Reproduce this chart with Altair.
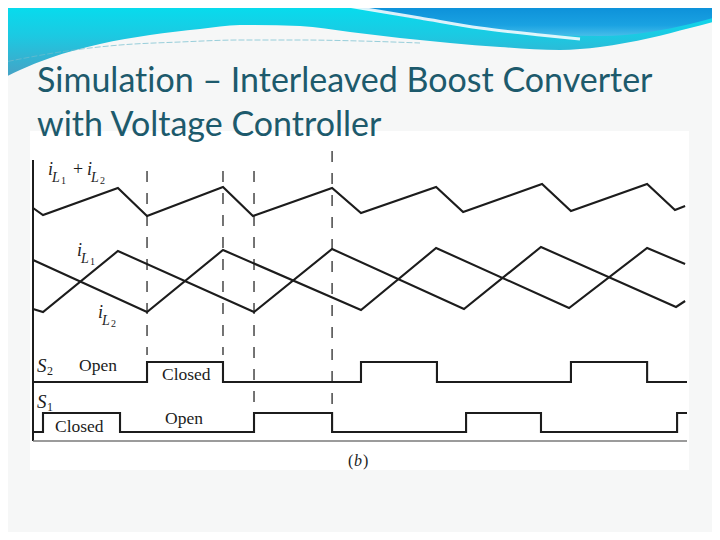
import altair as alt
import pandas as pd

# ---------------- data (time in µs, switching period T = 10 µs; currents in A) ----------------
t_sum = [-0.47, 0.0, 3.55, 4.93, 8.53, 9.95, 13.7, 15.07, 18.63, 19.91, 23.65, 25.02, 28.63, 29.95, 30.43]
i_sum = [12.2, 11.5, 14.2, 11.4, 14.3, 11.4, 14.2, 11.7, 14.3, 11.8, 14.6, 11.9, 14.6, 12.0, 12.4]

t_il1 = [-0.47, 0.0, 3.55, 10.0, 13.7, 19.95, 23.6, 30.0, 30.43]
i_l1 = [2.1, 1.8, 7.9, 1.8, 8.1, 2.1, 8.3, 2.3, 2.9]

t_il2 = [-0.47, 4.93, 8.53, 15.07, 18.63, 24.93, 28.63, 30.43]
i_l2 = [7.0, 1.8, 8.0, 2.0, 8.2, 2.2, 8.2, 6.6]

t_s1 = [-0.47, 0.0, 3.65, 10.0, 13.7, 20.05, 23.6, 30.05, 30.52]
s1_state = [0, 1, 0, 1, 0, 1, 0, 1, 1]
t_s2 = [-0.47, 4.93, 8.53, 15.07, 18.67, 25.02, 28.63, 30.52]
s2_state = [0, 1, 0, 1, 0, 1, 0, 0]

guides_short = [4.93, 8.53]
guides_mid = [10.0]
guides_tall = [13.7]
t_axis = [-0.474, 30.52]

# zero-width non-joiner keeps "ti" from being drawn as a ligature
title_lines = ["Simulat\u200cion \u2013 Interleaved Boost Converter", "with Voltage Controller"]

# slide decoration outlines (slide pixel units)
deco_x = [0, 20, 50, 100, 150, 200, 240, 300, 350, 400, 450, 500, 560, 600, 650, 690, 720]
deco_y = [80, 70, 58, 44, 35, 29, 25, 26, 32, 38, 43, 47, 50, 47, 38, 28, 20]
blue_x = [320, 360, 400, 450, 500, 550, 600, 650, 690, 720]
blue_y = [0, 8, 16, 24, 31, 35, 36, 32, 24, 16]
streak_x = [300, 360, 420, 480, 540, 580]
streak_y = [-2, 8, 18, 28, 35, 39]
swoosh_x = [0, 60, 120, 180, 240, 300, 360, 420]
swoosh_y = [63, 52, 45, 42, 40, 40, 41, 43]

# ---------------- scales ----------------
TX = alt.Scale(domain=[-0.474, 30.52], range=[25, 679], nice=False)
IY = alt.Scale(domain=[0, 20], range=[322, 122], nice=False)
S2Y = alt.Scale(domain=[0, 1], range=[374, 354], nice=False)
S1Y = alt.Scale(domain=[0, 1], range=[424, 405], nice=False)
PX = alt.Scale(domain=[0, 720], range=[-8, 712], nice=False)
PY = alt.Scale(domain=[0, 540], range=[-8, 532], nice=False)

INK = "#1c1c1c"
SERIF = "Liberation Serif"
ONE = pd.DataFrame({"k": [0]})

layers = []

# background figure panel
layers.append(
    alt.Chart(pd.DataFrame({"x": [30], "x2": [689], "y": [131], "y2": [470]}))
    .mark_rect(color="white")
    .encode(x=alt.X("x:Q", scale=PX, axis=None), x2="x2:Q",
            y=alt.Y("y:Q", scale=PY, axis=None), y2="y2:Q")
)

# header decoration
cyan = alt.Gradient(gradient="linear", x1=0, x2=0, y1=0, y2=1,
                    stops=[alt.GradientStop(color="#02e0f0", offset=0),
                           alt.GradientStop(color="#1cc9e2", offset=0.45),
                           alt.GradientStop(color="#4a9ec2", offset=1)])
layers.append(
    alt.Chart(pd.DataFrame({"x": deco_x, "y": deco_y}))
    .mark_area(color=cyan, interpolate="monotone")
    .encode(x=alt.X("x:Q", scale=PX, axis=None), y=alt.Y("y:Q", scale=PY, axis=None), y2=alt.value(-10))
)
blue = alt.Gradient(gradient="linear", x1=0, x2=0, y1=0, y2=1,
                    stops=[alt.GradientStop(color="#078ad6", offset=0),
                           alt.GradientStop(color="#1aa2e2", offset=0.7),
                           alt.GradientStop(color="#47bde9", offset=1)])
layers.append(
    alt.Chart(pd.DataFrame({"x": blue_x, "y": blue_y}))
    .mark_area(color=blue, interpolate="monotone")
    .encode(x=alt.X("x:Q", scale=PX, axis=None), y=alt.Y("y:Q", scale=PY, axis=None), y2=alt.value(-10))
)
layers.append(
    alt.Chart(pd.DataFrame({"x": streak_x, "y": streak_y}))
    .mark_line(color="white", strokeWidth=3, opacity=0.85, interpolate="monotone")
    .encode(x=alt.X("x:Q", scale=PX, axis=None), y=alt.Y("y:Q", scale=PY, axis=None))
)
layers.append(
    alt.Chart(pd.DataFrame({"x": swoosh_x, "y": swoosh_y}))
    .mark_line(color="#6fbccd", strokeWidth=1, opacity=0.7, interpolate="monotone", strokeDash=[6, 2])
    .encode(x=alt.X("x:Q", scale=PX, axis=None), y=alt.Y("y:Q", scale=PY, axis=None))
)


def txt(s, x, y, size, font=SERIF, style="normal", color=INK, align="left", weight="normal"):
    return alt.Chart(ONE).mark_text(
        text=s, font=font, fontSize=size, fontStyle=style, fontWeight=weight,
        color=color, align=align, baseline="alphabetic"
    ).encode(x=alt.value(x - 8), y=alt.value(y - 8))


# title
layers.append(txt(title_lines[0], 37, 92, 34, font="Lato", color="#1d5a6c"))
layers.append(txt(title_lines[1], 37, 136, 34, font="Lato", color="#1d5a6c"))

# axis frame
layers.append(
    alt.Chart(ONE).mark_rule(color=INK, strokeWidth=2)
    .encode(x=alt.value(25), y=alt.value(152), y2=alt.value(433))
)
layers.append(
    alt.Chart(pd.DataFrame({"t": t_axis}))
    .mark_rule(color="#7a7a7a", strokeWidth=1.5)
    .encode(x=alt.X("min(t):Q", scale=TX, axis=None), x2="max(t):Q", y=alt.value(433))
)

# dashed switching-instant guides
for ts, top, bot in [(guides_short, 171, 355), (guides_mid, 171, 412), (guides_tall, 151, 412)]:
    layers.append(
        alt.Chart(pd.DataFrame({"t": ts}))
        .mark_rule(color="#2a2a2a", strokeWidth=1.3, strokeDash=[11, 11])
        .encode(x=alt.X("t:Q", scale=TX, axis=None), y=alt.value(top - 8), y2=alt.value(bot - 8))
    )


def wave(t, v, ys, interp="linear"):
    return (
        alt.Chart(pd.DataFrame({"t": t, "v": v}))
        .mark_line(color=INK, strokeWidth=2.1, interpolate=interp)
        .encode(x=alt.X("t:Q", scale=TX, axis=None), y=alt.Y("v:Q", scale=ys, axis=None))
    )


layers.append(wave(t_sum, i_sum, IY))
layers.append(wave(t_il1, i_l1, IY))
layers.append(wave(t_il2, i_l2, IY))
layers.append(wave(t_s2, s2_state, S2Y, "step-after"))
layers.append(wave(t_s1, s1_state, S1Y, "step-after"))


def cur_label(x, y, digit):
    return [
        txt("i", x, y, 18, style="italic"),
        txt("L", x + 4, y + 7, 14, style="italic"),
        txt(digit, x + 13, y + 9, 10),
    ]


layers += cur_label(48, 175, "1")
layers.append(txt("+", 73, 175, 18))
layers += cur_label(87, 175, "2")
layers += cur_label(77, 256, "1")
layers += cur_label(98, 318, "2")

layers.append(txt("S", 37, 372, 19, style="italic"))
layers.append(txt("2", 47, 375, 12))
layers.append(txt("S", 37, 408, 19, style="italic"))
layers.append(txt("1", 47, 411, 12))
layers.append(txt("Open", 79, 371, 17.5))
layers.append(txt("Closed", 162, 380, 17.5))
layers.append(txt("Closed", 55, 432, 17.5))
layers.append(txt("Open", 165, 424, 17.5))
layers.append(txt("(", 348, 466, 16))
layers.append(txt("b", 354, 466, 16, style="italic"))
layers.append(txt(")", 363, 466, 16))

chart = (
    alt.layer(*layers)
    .resolve_scale(x="independent", y="independent")
    .properties(width=704, height=524, autosize=alt.AutoSizeParams(type="none"), padding=0,
                background="#f6f7f7")
    .configure_view(stroke=None)
)

chart.save("out.html", embed_options={"renderer": "svg", "actions": False})
